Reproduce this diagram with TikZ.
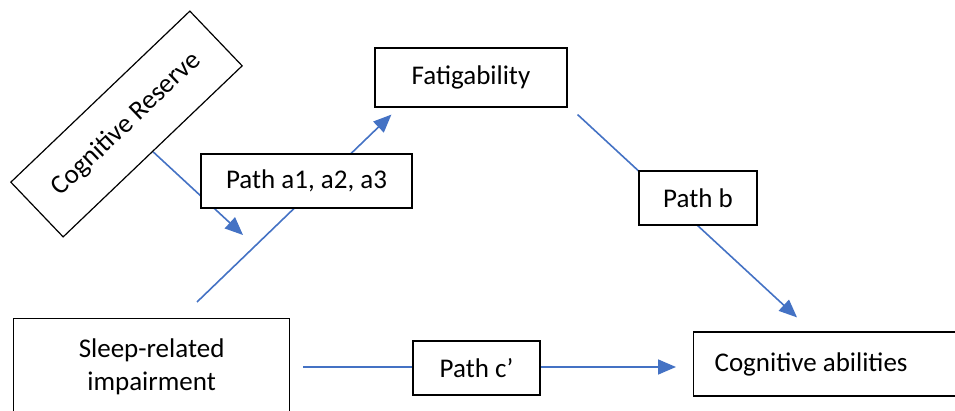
\documentclass[tikz,border=0pt]{standalone}
\usepackage{fontspec}
\setmainfont{Carlito}
\usetikzlibrary{arrows.meta,calc,backgrounds}
\definecolor{linkblue}{HTML}{4472C4}
\tikzset{
  box/.style={draw=black, line width=1.2pt, fill=white, inner sep=0pt,
    font=\fontsize{27}{33}\selectfont, align=center},
  conn/.style={draw=linkblue, line width=1.6pt,
    -{Triangle[length=18pt,width=15pt]}}
}
\begin{document}
\begin{tikzpicture}[x=1pt, y=-1pt]
\useasboundingbox (0,0) rectangle (955,411);

% variables
\node[box, minimum width=192pt, minimum height=59pt] (fat) at (471,77.5) {Fatigability};
\node[box, minimum width=247.6pt, minimum height=75.7pt, rotate=43.7] (cr) at (126.5,124) {Cognitive Reserve};
\node[box, anchor=north west, minimum width=276pt, minimum height=96pt] (sleep) at (13,318) {Sleep-related\\impairment};
\node[box, anchor=west, inner xsep=21pt, minimum height=64pt] (cog) at (693,364) {\makebox[240pt][l]{Cognitive abilities}};

% path labels
\node[box, minimum width=211pt, minimum height=54pt] (pa) at (306.5,181) {Path a1, a2, a3};
\node[box, minimum width=118pt, minimum height=54pt] (pb) at (698,198) {Path b};
\node[box, minimum width=127pt, minimum height=54pt] (pc) at (476.5,368) {Path c’};

% free ends
\coordinate (aStart) at (197,302);
\coordinate (modTip) at (243,235);
\coordinate (cStart) at (303,367);

\begin{pgfonlayer}{background}
  \draw[conn] (aStart) -- ([shift={(17,7)}]fat.south west);
  \draw[conn] ([shift={(10,7)}]fat.south east) -- ([shift={(104,-14)}]cog.north west);
  \draw[conn] (cr.south) -- (modTip);
  \draw[conn] (cStart) -- ($(cog.west|-cStart)+(-17,0)$);
\end{pgfonlayer}
\end{tikzpicture}
\end{document}
